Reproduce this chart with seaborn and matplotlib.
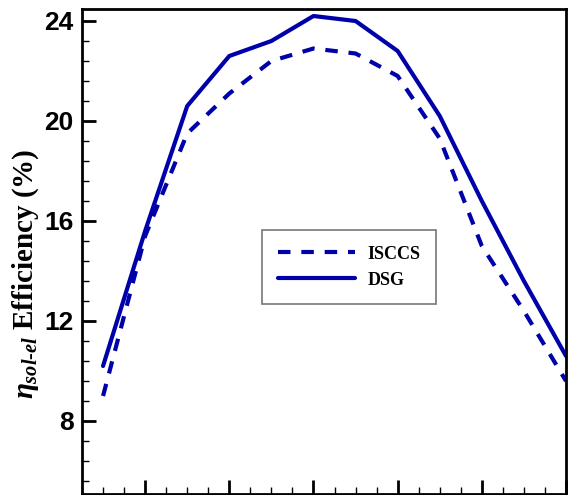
import matplotlib
matplotlib.use('Agg')
import matplotlib.pyplot as plt
from matplotlib.ticker import MultipleLocator, NullFormatter
import seaborn as sns
import pandas as pd

# monthly values
months = [1, 2, 3, 4, 5, 6, 7, 8, 9, 10, 11, 12]
isccs = [9.0, 15.4, 19.5, 21.1, 22.4, 22.9, 22.7, 21.8, 19.3, 15.0, 12.4, 9.6]
dsg = [10.2, 15.6, 20.6, 22.6, 23.2, 24.2, 24.0, 22.8, 20.2, 16.8, 13.6, 10.6]

sns.set_style('white')
plt.rcParams['mathtext.fontset'] = 'custom'
plt.rcParams['mathtext.it'] = 'Liberation Serif:italic:bold'
plt.rcParams['mathtext.rm'] = 'Liberation Serif:bold'
plt.rcParams['text.color'] = 'black'
plt.rcParams['axes.labelcolor'] = 'black'
plt.rcParams['ytick.color'] = 'black'
plt.rcParams['xtick.color'] = 'black'

df = pd.DataFrame({'month': months, 'ISCCS': isccs, 'DSG': dsg})
blue = '#0000aa'

fig = plt.figure(figsize=(5.69, 4.95), dpi=100)
ax = fig.add_axes([82 / 569, 1 - 494 / 495, 484 / 569, 485 / 495])

sns.lineplot(data=df, x='month', y='ISCCS', ax=ax, color=blue, linewidth=3,
             linestyle=(0, (3, 2.6)), label='ISCCS')
sns.lineplot(data=df, x='month', y='DSG', ax=ax, color=blue, linewidth=3,
             label='DSG')

ax.set_xlim(0.5, 12)
ax.set_ylim(5.08, 24.48)
ax.xaxis.set_major_locator(MultipleLocator(2))
ax.xaxis.set_minor_locator(MultipleLocator(0.5))
ax.xaxis.set_major_formatter(NullFormatter())
ax.yaxis.set_major_locator(MultipleLocator(4))
ax.yaxis.set_minor_locator(MultipleLocator(0.8))
ax.tick_params(which='both', direction='in', bottom=True, left=True,
               top=False, right=False, color='black')
ax.tick_params(which='major', length=10, width=2)
ax.tick_params(which='minor', length=5, width=1)
for lab in ax.get_yticklabels():
    lab.set_fontfamily('Liberation Sans')
    lab.set_fontweight('bold')
    lab.set_fontsize(19)
    lab.set_color('black')
ax.tick_params(axis='y', pad=6)

for sp in ax.spines.values():
    sp.set_color('black')
    sp.set_linewidth(2)

ax.set_xlabel('')
ax.set_ylabel(r'$\eta_{sol\text{-}el}$ Efficiency (%)', fontfamily='Liberation Serif',
              fontweight='bold', fontsize=21, color='black')
ax.yaxis.set_label_coords(-0.085, 0.455)

leg = ax.legend(loc='center', bbox_to_anchor=(0.552, 0.468), handlelength=4.3,
                handletextpad=0.7, fancybox=False, frameon=True, borderpad=0.85,
                labelspacing=0.5,
                prop={'family': 'Liberation Serif', 'weight': 'bold', 'size': 13})
leg.get_frame().set_edgecolor('#555555')
leg.get_frame().set_linewidth(1.2)
for t in leg.get_texts():
    t.set_color('black')

fig.savefig('out.png', dpi=100)
